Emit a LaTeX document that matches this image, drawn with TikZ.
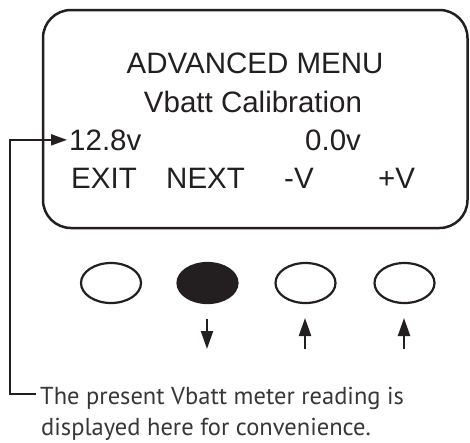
\documentclass[tikz,border=0pt]{standalone}
\usepackage{fontspec}
\setmainfont{Liberation Sans}
\newfontfamily\capfont{PT Sans}
\usetikzlibrary{shapes.geometric,arrows.meta}
\definecolor{ink}{RGB}{35,31,32}
\definecolor{captxt}{RGB}{55,55,55}
\begin{document}
\begin{tikzpicture}[x=1pt,y=-1pt,
  menutxt/.style={inner sep=0pt,font=\fontsize{29.5}{34}\selectfont,text=ink},
  captiontxt/.style={inner sep=0pt,font=\capfont\fontsize{24.5}{30}\selectfont,text=captxt},
  button/.style={ellipse,draw=ink,line width=2.2pt,minimum width=60pt,minimum height=40pt,inner sep=0pt},
  pressed/.style={button,fill=ink},
  keyarrow/.style={draw=ink,line width=2.2pt,-{Triangle[length=18pt,width=12pt]}},
  callout/.style={draw=ink,line width=2pt,-{Triangle[length=16pt,width=11pt]}}]
\useasboundingbox (0,0) rectangle (470,442);
% display frame
\draw[draw=ink,line width=2.5pt,rounded corners=28pt] (43,10) rectangle (467.5,228);
% display texts
\node[menutxt,anchor=base] (title) at (255,73) {ADVANCED MENU};
\node[menutxt,anchor=base] (sub) at (253,112) {Vbatt Calibration};
\node[menutxt,anchor=base west] (v1) at (69,150) {12.8v};
\node[menutxt,anchor=base west] (v2) at (305,150) {0.0v};
\node[menutxt,anchor=base west] (exit) at (71,188) {EXIT};
\node[menutxt,anchor=base west] (next) at (166,188) {NEXT};
\node[menutxt,anchor=base west] (minus) at (284,188) {-V};
\node[menutxt,anchor=base west] (plus) at (378,188) {+V};
% buttons
\node[button] (b1) at (111,283) {};
\node[pressed] (b2) at (207.5,283) {};
\node[button] (b3) at (305.5,283) {};
\node[button] (b4) at (404.5,283) {};
% key arrows
\coordinate (d1s) at (207,319);
\coordinate (d1e) at (207,349);
\coordinate (u3s) at (305,349);
\coordinate (u3e) at (305,318);
\coordinate (u4s) at (404,349);
\coordinate (u4e) at (404,318);
\draw[keyarrow] (d1s) -- (d1e);
\draw[keyarrow] (u3s) -- (u3e);
\draw[keyarrow] (u4s) -- (u4e);
% caption
\node[captiontxt,anchor=base west] (cap1) at (40,404) {The present Vbatt meter reading is};
\node[captiontxt,anchor=base west] (cap2) at (41,435) {displayed here for convenience.};
\coordinate (corner) at (10,394);
\draw[callout] ([xshift=-4pt]cap1.west |- corner) -- (corner) |- ([xshift=-2pt]v1.west);
\end{tikzpicture}
\end{document}
